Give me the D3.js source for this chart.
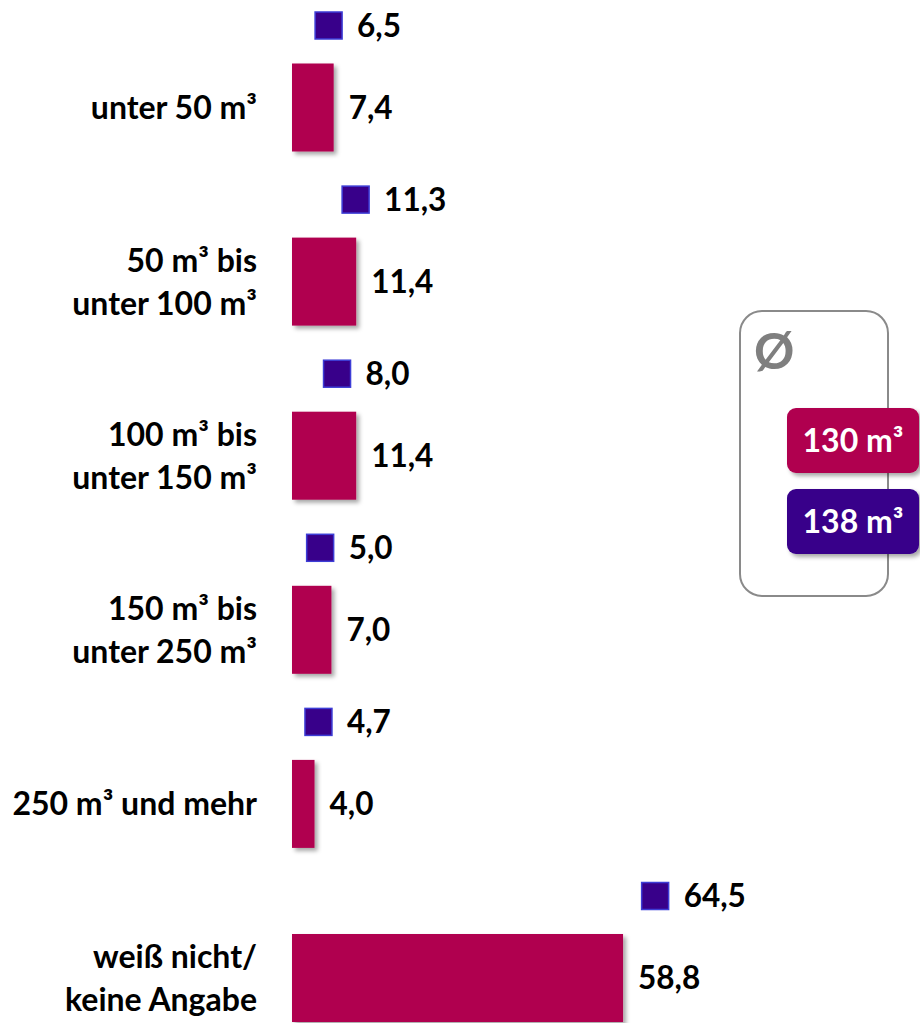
<!DOCTYPE html>
<html><head><meta charset="utf-8">
<script src="https://cdn.jsdelivr.net/npm/d3@7"></script>
<style>body{margin:0;background:#fff}svg{display:block}text{font-family:Lato,'Open Sans',sans-serif;font-weight:700}</style>
</head><body>
<script>
const categories = ["unter 50 m³", "50 m³ bis\nunter 100 m³", "100 m³ bis\nunter 150 m³", "150 m³ bis\nunter 250 m³", "250 m³ und mehr", "weiß nicht/\nkeine Angabe"];
const barValues = [7.4, 11.4, 11.4, 7.0, 4.0, 58.8];
const squareValues = [6.5, 11.3, 8.0, 5.0, 4.7, 64.5];
const barLabels = ["7,4", "11,4", "11,4", "7,0", "4,0", "58,8"];
const squareLabels = ["6,5", "11,3", "8,0", "5,0", "4,7", "64,5"];
const averages = ["130 m³", "138 m³"];

const W = 920, H = 1023;
const magenta = "#B0004F", purple = "#38008A";
const svg = d3.select("body").append("svg").attr("width", W).attr("height", H);
const defs = svg.append("defs");
const f = defs.append("filter").attr("id","sh").attr("x","-20%").attr("y","-20%").attr("width","150%").attr("height","150%");
f.append("feDropShadow").attr("dx",3).attr("dy",3).attr("stdDeviation",2.2).attr("flood-color","#000").attr("flood-opacity",0.35);

const x = d3.scaleLinear().domain([0, 100]).range([292, 292 + 563]);
const y = d3.scalePoint().domain(categories).range([107.5, 978]);
const barH = 88, sq = 27, sqOff = 82;
const fs = 31.5, lfs = 32;

const g = svg.append("g");
const rows = g.selectAll("g.row").data(categories).join("g").attr("class","row");

rows.append("rect")
  .attr("x", x(0)).attr("y", d => y(d) - barH/2)
  .attr("width", (d,i) => x(barValues[i]) - x(0)).attr("height", barH)
  .attr("fill", magenta).attr("filter","url(#sh)");

rows.append("rect")
  .attr("x", (d,i) => x(squareValues[i]) - sq/2).attr("y", d => y(d) - sqOff - sq/2)
  .attr("width", sq).attr("height", sq)
  .attr("fill", purple).attr("stroke", "#3d3dd6").attr("stroke-width", 1.5);

rows.append("text")
  .attr("x", (d,i) => x(barValues[i]) + 15).attr("y", d => y(d))
  .attr("dy", "0.36em").attr("font-size", fs).attr("fill","#000")
  .text((d,i) => barLabels[i]);

rows.append("text")
  .attr("x", (d,i) => x(squareValues[i]) + sq/2 + 15).attr("y", d => y(d) - sqOff)
  .attr("dy", "0.36em").attr("font-size", fs).attr("fill","#000")
  .text((d,i) => squareLabels[i]);

rows.each(function(d){
  const lines = d.split("\n");
  const t = d3.select(this).append("text")
    .attr("x", 257).attr("text-anchor","end").attr("font-size", lfs).attr("fill","#000");
  const lh = 43;
  lines.forEach((ln, j) => {
    t.append("tspan").attr("x", 257)
      .attr("y", y(d) + (j - (lines.length-1)/2) * lh)
      .attr("dy","0.36em").text(ln);
  });
});

// legend
const lg = svg.append("g");
lg.append("rect").attr("x",740).attr("y",311).attr("width",148).attr("height",285).attr("rx",22)
  .attr("fill","none").attr("stroke","#8a8a8a").attr("stroke-width",2);
lg.append("text").attr("x",754).attr("y",369).attr("font-size",50).attr("fill","#7f7f7f").text("Ø");
const boxes = [{y:408, c:magenta}, {y:489, c:purple}];
boxes.forEach((b,i) => {
  lg.append("rect").attr("x",787).attr("y",b.y).attr("width",132).attr("height",65).attr("rx",9)
    .attr("fill",b.c).attr("filter","url(#sh)");
  lg.append("text").attr("x",853).attr("y",b.y+32.5).attr("dy","0.36em").attr("text-anchor","middle")
    .attr("font-size",32).attr("fill","#fff").text(averages[i]);
});
</script>
</body></html>
